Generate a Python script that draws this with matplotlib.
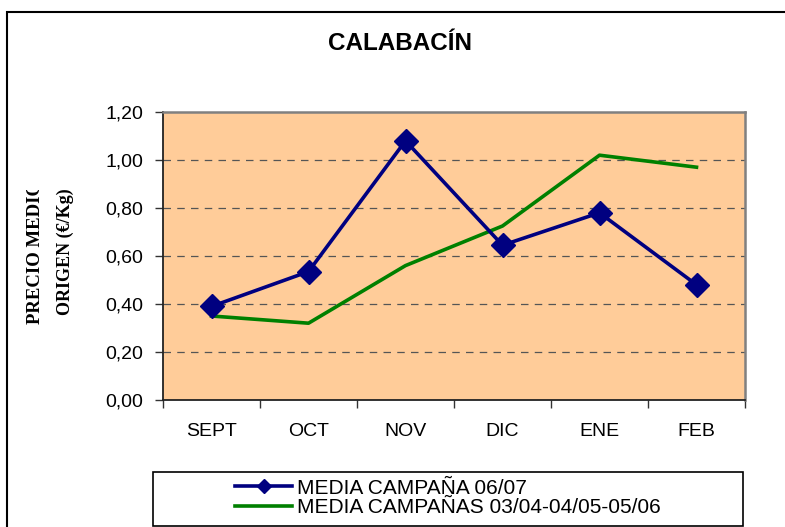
import matplotlib
matplotlib.use('Agg')
import matplotlib.pyplot as plt
from matplotlib.patches import Rectangle
from matplotlib.lines import Line2D
from matplotlib.transforms import Bbox, TransformedBbox

# Datos
meses = ['SEPT', 'OCT', 'NOV', 'DIC', 'ENE', 'FEB']
media_0607 = [0.39, 0.535, 1.08, 0.645, 0.78, 0.48]
media_030406 = [0.35, 0.32, 0.56, 0.725, 1.02, 0.97]
y_ticks = [0.0, 0.2, 0.4, 0.6, 0.8, 1.0, 1.2]
series_labels = ['MEDIA CAMPAÑA 06/07', 'MEDIA CAMPAÑAS 03/04-04/05-05/06']

W, H = 785, 527
fig = plt.figure(figsize=(W / 100, H / 100), dpi=100)

def px(x, y):
    # pixel (desde arriba a la izquierda) -> fracción de figura
    return x / W, 1 - y / H

# marco exterior del gráfico (solo se ve arriba e izquierda)
fig.add_artist(Rectangle(px(7, 540), 1.2, (540 - 12) / H, transform=fig.transFigure,
                         fill=False, edgecolor='black', linewidth=1.5))

ax = fig.add_axes([163 / W, 1 - 400 / H, (745 - 163) / W, (400 - 112) / H])
ax.set_facecolor('#FFCC99')

x = list(range(len(meses)))
ax.plot(x, media_030406, color='#008000', linewidth=2.6, zorder=3)
ax.plot(x, media_0607, color='#000080', linewidth=2.6, marker='D', markersize=12, zorder=4)

ax.set_xlim(-0.5, len(meses) - 0.5)
ax.set_ylim(0, 1.2)
ax.set_yticks(y_ticks)
ax.set_yticklabels([f'{v:.2f}'.replace('.', ',') for v in y_ticks])
ax.set_xticks(x)
ax.set_xticklabels(meses)
ax.set_xticks([i - 0.5 for i in range(len(meses) + 1)], minor=True)

ax.tick_params(axis='x', which='major', length=0, pad=16.5, labelsize=14)
ax.tick_params(axis='x', which='minor', length=6, width=1, color='#333333')
ax.tick_params(axis='y', length=6, width=1, pad=8, labelsize=14, color='#333333')
for lab in ax.get_xticklabels() + ax.get_yticklabels():
    lab.set_fontfamily('Liberation Sans')

for v in y_ticks[1:-1]:
    ax.axhline(v, color='#555555', linestyle=(0, (6, 5)), linewidth=0.9, zorder=1)

for s in ('top', 'right'):
    ax.spines[s].set_color('#808080')
    ax.spines[s].set_linewidth(1.8)
for s in ('left', 'bottom'):
    ax.spines[s].set_color('#222222')
    ax.spines[s].set_linewidth(1.3)

fig.text(*px(400, 43), 'CALABACÍN', ha='center', va='center',
         fontsize=17.5, fontweight='bold', family='Liberation Sans')

# etiqueta del eje Y en dos líneas, la primera recortada como en el original
clip = TransformedBbox(Bbox.from_extents(0, 0, 1, 1 - 190 / H), fig.transFigure)
t1 = fig.text(*px(40, 324), 'PRECIO MEDIO', rotation=90, rotation_mode='anchor',
              ha='left', va='baseline', fontsize=13.5, fontweight='bold', family='Liberation Serif')
t1.set_clip_box(clip)
t1.set_clip_on(True)
fig.text(*px(70, 315), 'ORIGEN (€/Kg)', rotation=90, rotation_mode='anchor',
         ha='left', va='baseline', fontsize=13, fontweight='bold', family='Liberation Serif')

# leyenda con marco ancho
fig.add_artist(Rectangle(px(153, 526), (743 - 153) / W, (526 - 472) / H,
                         transform=fig.transFigure, fill=False, edgecolor='black', linewidth=1.2))
handles = [Line2D([], [], color='#000080', linewidth=2.6, marker='D', markersize=7),
           Line2D([], [], color='#008000', linewidth=2.6)]
fig.legend(handles, series_labels,
           loc='center left', bbox_to_anchor=px(235, 498), frameon=False,
           prop={'family': 'Liberation Sans', 'size': 15}, handlelength=2.74,
           handletextpad=0.24, labelspacing=0.04, borderpad=0, borderaxespad=0)

fig.savefig('out.png', dpi=100)
